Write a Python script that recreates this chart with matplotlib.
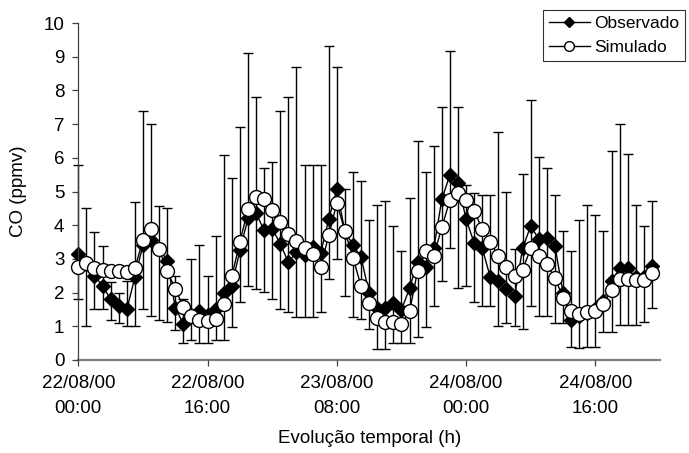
import numpy as np
import matplotlib
matplotlib.use("Agg")
import matplotlib.pyplot as plt
from matplotlib.lines import Line2D

plt.rcParams['font.family'] = ['Liberation Sans', 'DejaVu Sans']

# Hourly CO concentrations (ppmv), 22/08/00 00:00 to 24/08/00 23:00
observado = [3.15, 2.85, 2.50, 2.20, 1.80, 1.60, 1.50, 2.45, 3.40, 3.55,
             3.30, 2.95, 1.55, 1.07, 1.35, 1.45, 1.35, 1.50, 2.00, 2.20,
             3.25, 4.20, 4.35, 3.85, 3.90, 3.45, 2.90, 3.20, 3.12, 3.35,
             3.17, 4.18, 5.07, 3.80, 3.42, 3.05, 1.98, 1.53, 1.53, 1.68,
             1.49, 2.13, 2.92, 2.77, 3.32, 4.77, 5.50, 5.25, 4.18, 3.47,
             3.32, 2.45, 2.33, 2.10, 1.90, 3.32, 3.98, 3.58, 3.61, 3.37,
             2.00, 1.19, 1.30, 1.40, 1.50, 1.75, 2.33, 2.72, 2.72, 2.45,
             2.45, 2.80]

simulado = [2.77, 2.87, 2.72, 2.67, 2.65, 2.65, 2.62, 2.72, 3.56, 3.88,
            3.29, 2.63, 2.12, 1.57, 1.31, 1.20, 1.15, 1.23, 1.65, 2.48,
            3.50, 4.47, 4.84, 4.79, 4.45, 4.10, 3.75, 3.54, 3.32, 3.15,
            2.76, 3.70, 4.66, 3.82, 3.04, 2.19, 1.70, 1.24, 1.14, 1.14,
            1.07, 1.44, 2.65, 3.22, 3.09, 3.94, 4.75, 4.97, 4.75, 4.43,
            3.88, 3.50, 3.08, 2.77, 2.50, 2.67, 3.32, 3.09, 2.84, 2.43,
            1.85, 1.44, 1.37, 1.41, 1.44, 1.66, 2.08, 2.40, 2.40, 2.38,
            2.38, 2.59]

# Lower and upper limits of the observed range
obs_min = [1.80, 1.00, 1.50, 1.50, 1.20, 1.10, 1.00, 1.00, 1.50, 1.30,
           1.20, 1.13, 0.90, 0.50, 0.60, 0.50, 0.50, 0.60, 0.59, 0.98,
           1.72, 2.20, 2.10, 2.02, 1.80, 1.50, 1.43, 1.29, 1.29, 1.29,
           1.43, 2.41, 3.00, 1.89, 1.29, 1.21, 0.91, 0.32, 0.32, 0.51,
           0.51, 0.51, 0.69, 0.99, 1.60, 2.33, 3.32, 2.13, 2.20, 1.73,
           1.60, 1.60, 1.01, 1.11, 1.01, 0.91, 1.60, 1.31, 1.31, 1.11,
           1.11, 0.40, 0.35, 0.40, 0.40, 0.84, 0.84, 1.04, 1.04, 1.04,
           1.14, 1.53]

obs_max = [5.80, 4.50, 3.80, 3.38, 2.30, 2.00, 2.35, 4.70, 7.40, 7.00,
           4.57, 4.52, 2.50, 1.80, 3.00, 3.40, 2.48, 3.68, 6.08, 5.41,
           6.90, 9.10, 7.81, 5.69, 5.87, 7.39, 7.81, 8.70, 5.79, 5.79,
           5.79, 9.32, 8.70, 5.08, 5.58, 5.30, 4.14, 4.60, 4.72, 3.99,
           3.22, 4.82, 6.49, 5.59, 6.34, 7.52, 9.18, 7.52, 5.20, 4.97,
           4.90, 4.90, 6.78, 4.98, 3.30, 5.52, 7.72, 6.01, 5.71, 4.90,
           3.84, 3.22, 4.14, 4.60, 4.29, 3.84, 6.19, 7.01, 6.11, 4.60,
           3.99, 4.72]

tick_hours = [0, 16, 32, 48, 64]
tick_labels = ["22/08/00\n00:00", "22/08/00\n16:00", "23/08/00\n08:00",
               "24/08/00\n00:00", "24/08/00\n16:00"]

hours = np.arange(len(observado))
obs = np.array(observado)
lower = obs - np.array(obs_min)
upper = np.array(obs_max) - obs

fig = plt.figure(figsize=(6.89, 4.53), dpi=100)
ax = fig.add_axes([78.3 / 689, 1 - 360 / 453, (660 - 78.3) / 689, (360 - 23) / 453])

eb = ax.errorbar(hours, obs, yerr=[lower, upper], fmt='none', ecolor='black',
                 elinewidth=1.0, capsize=3.6, capthick=1.0, zorder=1)
for artist in eb.lines[1] + eb.lines[2]:
    artist.set_clip_on(False)
ax.plot(hours, obs, color='black', lw=1.0, marker='D', ms=7.3,
        mfc='black', mec='black', zorder=2, clip_on=False)
ax.plot(hours, simulado, color='black', lw=1.0, marker='o', ms=10,
        mfc='white', mec='black', mew=1.0, zorder=3, clip_on=False)

ax.set_xlim(0, 72)
ax.set_ylim(0, 10)
ax.set_yticks(range(0, 11))
ax.set_xticks(tick_hours)
ax.set_xticklabels(tick_labels, linespacing=1.6)

for side in ('top', 'right'):
    ax.spines[side].set_visible(False)
ax.spines['left'].set_color('#404040')
ax.spines['left'].set_linewidth(0.9)
ax.spines['bottom'].set_color('#808080')
ax.spines['bottom'].set_linewidth(1.6)
ax.spines['bottom'].set_zorder(0.5)

ax.tick_params(axis='y', direction='out', length=4, width=0.9,
               color='#404040', labelsize=13.5, pad=6)
ax.tick_params(axis='x', direction='out', length=4, width=0.9,
               color='#404040', labelsize=13.5, pad=7)

ax.set_ylabel("CO (ppmv)", fontsize=13.5, labelpad=12)
ax.set_xlabel("Evolução temporal (h)", fontsize=13.5, labelpad=9)

handles = [
    Line2D([], [], color='black', lw=1.0, marker='D', ms=5, mfc='black', mec='black'),
    Line2D([], [], color='black', lw=1.0, marker='o', ms=7, mfc='white', mec='black'),
]
leg = fig.legend(handles, ["Observado", "Simulado"], loc='upper right',
                 bbox_to_anchor=(685 / 689, 1 - 10 / 453), fontsize=12.5,
                 frameon=True, fancybox=False, shadow=False,
                 handlelength=2.4, handletextpad=0.2, borderpad=0.35,
                 labelspacing=0.5, borderaxespad=0.0)
leg.get_frame().set_edgecolor('black')
leg.get_frame().set_linewidth(0.8)

fig.savefig("out.png", dpi=100)
